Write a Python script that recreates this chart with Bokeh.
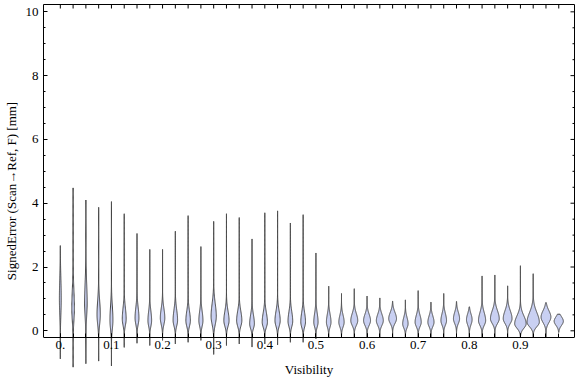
import numpy as np
from bokeh.plotting import figure
from bokeh.models import Range1d, LinearAxis, FixedTicker
from bokeh.embed import file_html
from bokeh.resources import INLINE

# ---- data ----
visibility = [0.000, 0.025, 0.050, 0.075, 0.100, 0.125, 0.150, 0.175, 0.200, 0.225,
              0.250, 0.275, 0.300, 0.325, 0.350, 0.375, 0.400, 0.425, 0.450, 0.475,
              0.500, 0.525, 0.550, 0.575, 0.600, 0.625, 0.650, 0.675, 0.700, 0.725,
              0.750, 0.775, 0.800, 0.825, 0.850, 0.875, 0.900, 0.925, 0.950, 0.975]
err_min = [-0.88, -1.14, -1.03, -0.95, -1.10, -0.52, -0.39, -0.46, -0.30, -0.41,
           -0.36, -0.30, -0.74, -0.46, -0.41, -0.51, -0.41, -0.44, -0.36, -0.36,
           -0.25, -0.21, -0.21, -0.21, -0.21, -0.21, -0.21, -0.21, -0.21, -0.21,
           -0.21, -0.21, -0.21, -0.21, -0.21, -0.21, -0.21, -0.21, -0.21, -0.05]
err_max = [2.67, 4.48, 4.10, 3.87, 4.05, 3.67, 3.05, 2.55, 2.55, 3.12,
           3.61, 2.64, 3.43, 3.67, 3.55, 2.88, 3.70, 3.76, 3.38, 3.64,
           2.44, 1.40, 1.17, 1.32, 1.09, 1.03, 0.93, 0.97, 1.26, 0.90,
           1.17, 0.92, 0.75, 1.72, 1.75, 1.41, 2.04, 1.79, 0.88, 0.52]
err_mode = [1.00, 0.70, 0.90, 0.50, 0.33, 0.37, 0.40, 0.32, 0.40, 0.33,
            0.32, 0.32, 0.45, 0.32, 0.32, 0.22, 0.27, 0.32, 0.30, 0.28,
            0.27, 0.27, 0.27, 0.32, 0.32, 0.32, 0.38, 0.22, 0.27, 0.27,
            0.32, 0.38, 0.35, 0.32, 0.38, 0.38, 0.22, 0.27, 0.43, 0.30]
# peak half-width of each violin (x units)
density_width = [0.0018, 0.0025, 0.0025, 0.0032, 0.0029, 0.0038, 0.0038, 0.0036, 0.0044, 0.0044,
                 0.0044, 0.0040, 0.0051, 0.0051, 0.0051, 0.0046, 0.0051, 0.0051, 0.0046, 0.0046,
                 0.0042, 0.0045, 0.0052, 0.0068, 0.0068, 0.0068, 0.0076, 0.0053, 0.0060, 0.0060,
                 0.0055, 0.0060, 0.0055, 0.0070, 0.0086, 0.0086, 0.0112, 0.0120, 0.0096, 0.0090]
spread_low = [0.50, 0.40, 0.45, 0.30, 0.28, 0.20, 0.20, 0.18, 0.20, 0.18,
              0.18, 0.18, 0.25, 0.18, 0.18, 0.15, 0.16, 0.18, 0.17, 0.17,
              0.15, 0.15, 0.15, 0.15, 0.15, 0.15, 0.15, 0.13, 0.14, 0.14,
              0.14, 0.15, 0.16, 0.15, 0.15, 0.15, 0.14, 0.14, 0.17, 0.13]
spread_high = [0.65, 0.60, 0.60, 0.45, 0.45, 0.35, 0.33, 0.30, 0.30, 0.33,
               0.30, 0.30, 0.40, 0.30, 0.30, 0.28, 0.30, 0.30, 0.30, 0.30,
               0.28, 0.25, 0.22, 0.22, 0.20, 0.20, 0.20, 0.20, 0.22, 0.20,
               0.22, 0.20, 0.18, 0.25, 0.25, 0.25, 0.25, 0.30, 0.20, 0.14]
x_tick_values = [0.0, 0.1, 0.2, 0.3, 0.4, 0.5, 0.6, 0.7, 0.8, 0.9]
x_tick_labels = ["0.", "0.1", "0.2", "0.3", "0.4", "0.5", "0.6", "0.7", "0.8", "0.9"]
y_tick_values = [0, 2, 4, 6, 8, 10]
y_minor_values = [0.5, 1, 1.5, 2.5, 3, 3.5, 4.5, 5, 5.5, 6.5, 7, 7.5, 8.5, 9, 9.5]

X_START, X_END = -0.0329, 1.0058
FRAME_BOTTOM = -0.21
FRAME_TOP = 10.23
FONT = "Liberation Serif"

# ---- violin outlines ----
xs, ys = [], []
for pos, lo, hi, m, w, sl, sh in zip(visibility, err_min, err_max, err_mode,
                                     density_width, spread_low, spread_high):
    yy = np.linspace(lo, hi, 160)
    s = np.where(yy < m, sl, sh)
    hw = w * np.exp(-0.5 * ((yy - m) / s) ** 2)
    xs.append(list(pos + hw) + list((pos - hw)[::-1]))
    ys.append(list(yy) + list(yy[::-1]))

p = figure(width=576, height=377, output_backend="svg", toolbar_location=None,
           x_range=Range1d(X_START, X_END), y_range=Range1d(-1.464, FRAME_TOP),
           x_axis_location=None, y_axis_location=None,
           min_border_left=37, min_border_right=2, min_border_top=4, min_border_bottom=0)
p.grid.visible = False
p.outline_line_color = None
p.background_fill_color = "white"

p.patches(xs, ys, fill_color="#c9d0f2", line_color="#444444", line_width=1)

# inward ticks on the top and right frame edges (half of each dash is clipped)
p.scatter(x=visibility, y=[FRAME_TOP] * len(visibility), marker="dash",
          angle=np.pi / 2, size=8, line_color="black", line_width=1)
p.scatter(x=[X_END] * len(y_tick_values), y=y_tick_values, marker="dash",
          size=8, line_color="black", line_width=1)
p.scatter(x=[X_END] * len(y_minor_values), y=y_minor_values, marker="dash",
          size=4, line_color="black", line_width=1)

def style(ax):
    ax.axis_line_color = "black"
    ax.major_tick_line_color = "black"
    ax.minor_tick_line_color = "black"
    ax.major_tick_out = 0
    ax.minor_tick_out = 0
    ax.major_label_text_font = FONT
    ax.major_label_text_font_size = "13px"
    ax.major_label_text_color = "black"
    ax.axis_label_text_font = FONT
    ax.axis_label_text_font_size = "13px"
    ax.axis_label_text_font_style = "normal"
    ax.axis_label_text_color = "black"

# left
left = LinearAxis(ticker=FixedTicker(ticks=y_tick_values, minor_ticks=y_minor_values),
                  bounds=(FRAME_BOTTOM, FRAME_TOP),
                  axis_label="SignedError (Scan\u2192Ref, F) [mm]")
style(left)
left.major_tick_in = 4
left.minor_tick_in = 2
left.major_label_standoff = 5
left.axis_label_standoff = 4
p.add_layout(left, "left")

# right frame line
right = LinearAxis(ticker=FixedTicker(ticks=[]), bounds=(FRAME_BOTTOM, FRAME_TOP))
style(right)
p.add_layout(right, "right")

# top frame line
top = LinearAxis(ticker=FixedTicker(ticks=[]))
style(top)
p.add_layout(top, "above")

# bottom (frame line at FRAME_BOTTOM)
bottom = LinearAxis(ticker=FixedTicker(ticks=x_tick_values, minor_ticks=visibility),
                    fixed_location=FRAME_BOTTOM, axis_label="Visibility",
                    major_label_overrides={v: t for v, t in zip(x_tick_values, x_tick_labels)})
style(bottom)
bottom.major_tick_in = 4
bottom.minor_tick_in = 4
bottom.major_label_standoff = 3
bottom.axis_label_standoff = 10
p.add_layout(bottom, "below")

open("out.html", "w").write(file_html(p, INLINE))
